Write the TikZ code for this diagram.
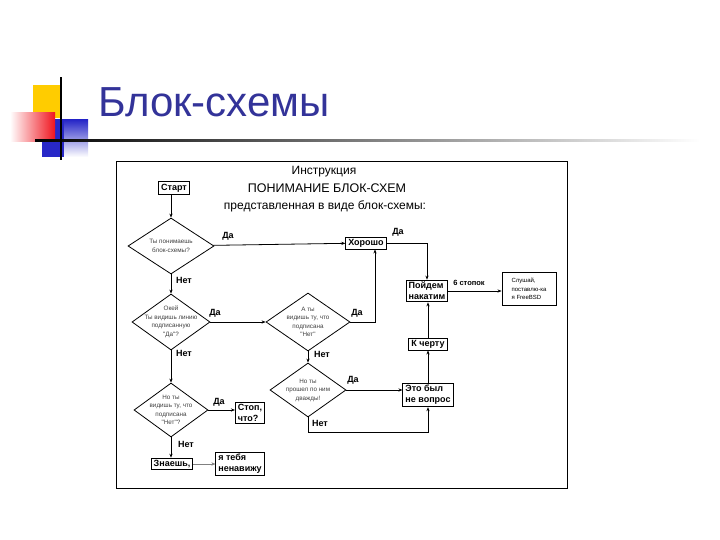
\documentclass[tikz,border=0pt]{standalone}
\usepackage{fontspec}
\setmainfont{Liberation Sans}
\usetikzlibrary{shapes.geometric,arrows.meta}
\definecolor{titleblue}{RGB}{51,51,153}
\definecolor{logoyellow}{RGB}{255,204,0}
\definecolor{logored}{RGB}{240,20,30}
\definecolor{logoblue}{RGB}{40,40,200}
\begin{document}
\begin{tikzpicture}[x=1pt,y=-1pt,
  box/.style={draw, line width=0.9pt, inner xsep=2.5pt, inner ysep=2pt, font=\fontsize{9}{11}\selectfont\bfseries, align=left},
  dia/.style={draw, diamond, line width=0.8pt, inner sep=0pt},
  diatext/.style={inner sep=0pt, text=black!75, font=\fontsize{6.3}{8.5}\selectfont, align=center},
  arr/.style={line width=0.8pt, -{Stealth[length=4pt,width=3.2pt]}},
  lab/.style={font=\fontsize{9}{10}\selectfont\bfseries, inner sep=0pt},
  ttl/.style={font=\fontsize{12}{14}\selectfont, inner sep=0pt}]
\useasboundingbox (0,0) rectangle (720,540);
\fill[white] (0,0) rectangle (720,540);
% logo
\fill[logoyellow] (33,85) rectangle (62,118);
\shade[left color=logoblue, right color=white, shading angle=0] (42,120) rectangle (88,157);
\fill[logoblue] (42,120) rectangle (64,157);
\shade[left color=white, right color=logored] (10,113) rectangle (55,142);
\shade[left color=black, right color=white] (35,140) rectangle (700,142);
\fill[black] (60,77) rectangle (62,160);
\node[anchor=base west, inner sep=0pt, text=titleblue, font=\fontsize{42}{50}\selectfont] (title) at (98,117) {Блок-схемы};
% frame
\draw[line width=0.9pt] (116,161) rectangle (567,488);
\node[ttl] (t1) at (324,172) {Инструкция};
\node[ttl, font=\fontsize{12.5}{14}\selectfont] (t2) at (327,188) {ПОНИМАНИЕ БЛОК-СХЕМ};
\node[ttl] (t3) at (325,206) {представленная в виде блок-схемы:};
% nodes
\node[box] (start) at (174,188) {Старт};
\node[dia, minimum width=86pt, minimum height=56pt, label={[diatext]center:{Ты понимаешь\\блок-схемы?}}] (d1) at (171,246) {};
\node[box] (good) at (366,243) {Хорошо};
\node[box] (drink) at (427,291) {Пойдем\\накатим};
\node[box, font=\fontsize{6}{8.5}\selectfont, minimum width=54pt, minimum height=33pt] (bsd) at (529,289) {Слушай,\\поставлю-ка\\я FreeBSD};
\node[dia, minimum width=78pt, minimum height=56pt, label={[diatext]center:{Окей\\Ты видишь линию\\подписанную\\\textquotedbl Да\textquotedbl?}}] (d2) at (171,322) {};
\node[dia, minimum width=84pt, minimum height=58pt, label={[diatext]center:{А ты\\видишь ту, что\\подписана\\\textquotedbl Нет\textquotedbl}}] (d3) at (308,322) {};
\node[dia, minimum width=76pt, minimum height=54pt, label={[diatext]center:{Но ты\\прошел по ним\\дважды!}}] (d4) at (308,390) {};
\node[box] (notq) at (428,395) {Это был\\не вопрос};
\node[box] (hell) at (428,344) {К черту};
\node[dia, minimum width=74pt, minimum height=54pt, label={[diatext]center:{Но ты\\видишь ту, что\\подписана\\\textquotedbl Нет\textquotedbl?}}] (d5) at (171,410) {};
\node[box] (stop) at (250,413) {Стоп,\\что?};
\node[box] (know) at (172,464) {Знаешь,};
\node[box] (hate) at (240,464) {я тебя\\ненавижу};
% connectors
\draw[arr] (start.south -| d1.north) -- (d1.north);
\draw[arr] (d1) -- (good);
\draw[arr] (good.east) -| (drink.north);
\draw[arr] (drink.east) -- (bsd.west |- drink.east);
\draw[arr] (d1) -- (d2);
\draw[arr] (d2) -- (d3);
\draw[arr] (d3.east) -| ([xshift=9pt]good.south);
\draw[arr] (d3) -- (d4);
\draw[arr] (d4.east) -- (d4.east -| notq.west);
\coordinate (b4) at (308,432);
\draw[arr] (d4.south) -- (b4) -| (notq.south);
\draw[arr] (notq) -- (hell);
\draw[arr] (hell.north) -- (hell.north |- drink.south);
\draw[arr] (d2) -- (d5);
\draw[arr] (d5.east) -- (d5.east -| stop.west);
\draw[arr] (d5.south) -- (d5.south |- know.north);
\draw[arr, line width=0.4pt, gray] (know) -- (know -| hate.west);
% labels
\node[lab] (l1) at (228,236) {Да};
\node[lab] (l2) at (184,280) {Нет};
\node[lab] (l3) at (215,313) {Да};
\node[lab] (l4) at (184,353) {Нет};
\node[lab] (l5) at (357,313) {Да};
\node[lab] (l6) at (322,354) {Нет};
\node[lab] (l7) at (398,232) {Да};
\node[lab] (l8) at (353,380) {Да};
\node[lab] (l9) at (320,423) {Нет};
\node[lab] (l10) at (219,402) {Да};
\node[lab] (l11) at (186,444) {Нет};
\node[lab, font=\fontsize{7.5}{8}\selectfont\bfseries] (l12) at (469,283) {6 стопок};
\end{tikzpicture}
\end{document}
